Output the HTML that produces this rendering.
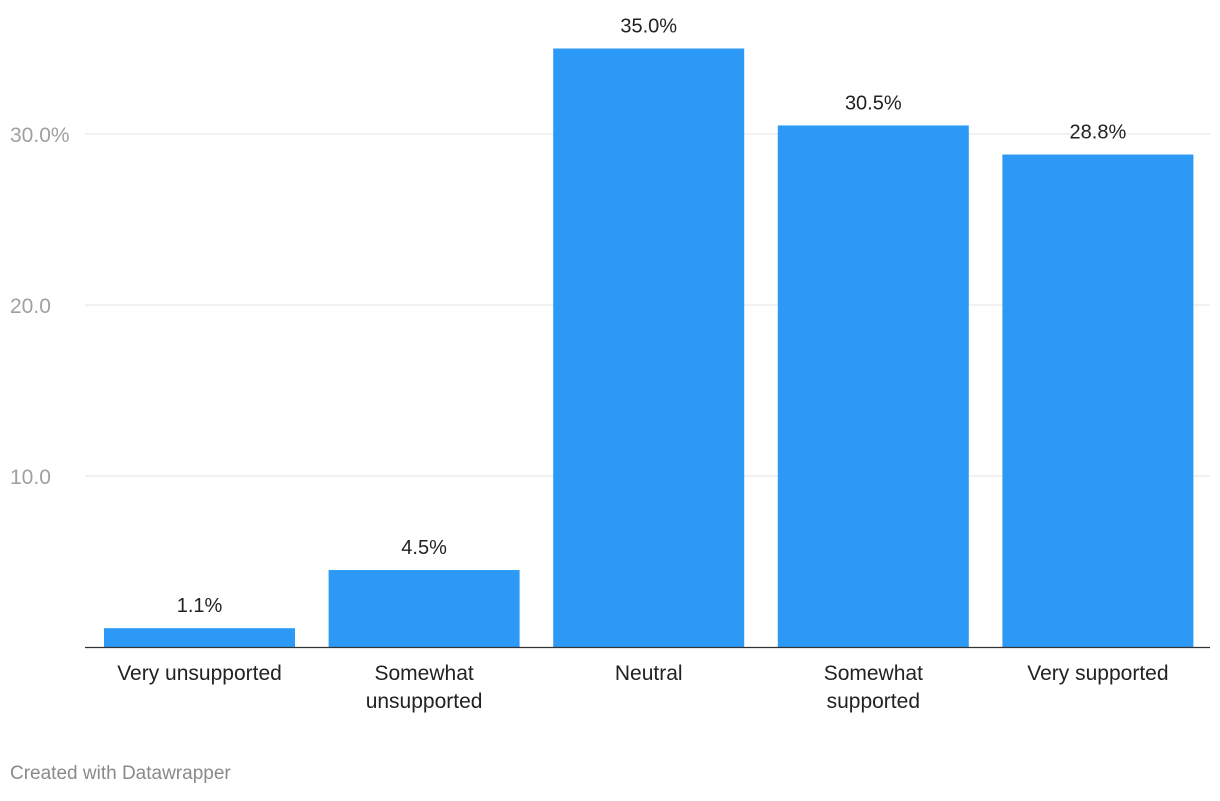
<!DOCTYPE html>
<html><head><meta charset="utf-8"><style>
body{margin:0;background:#fff;font-family:"Liberation Sans",Arial,sans-serif;}
svg text{font-family:"Liberation Sans",Arial,sans-serif;}
</style></head><body>
<svg id="chart" width="1220" height="796" xmlns="http://www.w3.org/2000/svg">
<g id="grid"></g>
<g id="bars"></g>
<g id="labels"></g>
<text x="10" y="779" font-size="19" fill="#8a8a8a">Created with Datawrapper</text>
</svg>
<script>
const categories=[["Very unsupported"],["Somewhat","unsupported"],["Neutral"],["Somewhat","supported"],["Very supported"]];
const values=[1.1,4.5,35.0,30.5,28.8];
const ticks=[10,20,30];
const tickLabels=["10.0","20.0","30.0%"];
const NS="http://www.w3.org/2000/svg";
const base=647, pxPerUnit=17.1;
const y=v=>base-v*pxPerUnit;
const x0=104, step=224.6, bw=191;
const x=i=>x0+i*step;
function mk(t,a,p,txt){const e=document.createElementNS(NS,t);for(const k in a)e.setAttribute(k,a[k]);if(txt!==undefined)e.textContent=txt;p.appendChild(e);return e;}
const grid=document.getElementById('grid'),bars=document.getElementById('bars'),labels=document.getElementById('labels');
ticks.forEach((t,i)=>{
  const l=mk('line',{x1:85,x2:1210,y1:y(t),y2:y(t),stroke:'#e3e3e3','stroke-width':1},grid);
  
  
  const tx=mk('text',{x:10,y:y(t)+8,'font-size':21,fill:'#a0a0a0'},grid,tickLabels[i]);
  
  
});
values.forEach((v,i)=>{
  const r=mk('rect',{x:x(i),y:y(v),width:bw,height:base-y(v),fill:'#2c99f7'},bars);
  
  
  const t=mk('text',{x:x(i)+bw/2,y:y(v)-16,'font-size':20,fill:'#222','text-anchor':'middle'},labels,v.toFixed(1)+'%');
  
  
  categories[i].forEach((line,j)=>{
    const c=mk('text',{x:x(i)+bw/2,y:680+j*28,'font-size':21,fill:'#222','text-anchor':'middle'},labels,line);
    
    
  });
});
const ax=mk('line',{x1:85,x2:1210,y1:base+0.5,y2:base+0.5,stroke:'#333','stroke-width':1.3},labels);


</script>
</body></html>
